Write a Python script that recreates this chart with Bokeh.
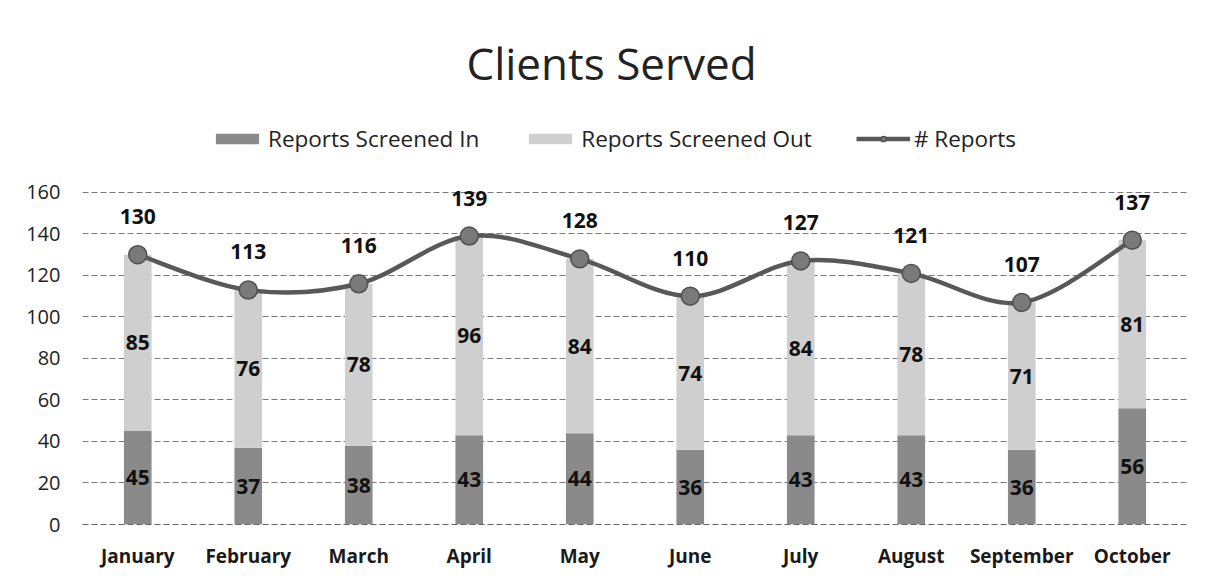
from bokeh.plotting import figure
from bokeh.models import ColumnDataSource, FactorRange, Legend, LegendItem, FixedTicker, Label
from bokeh.core.properties import value
from bokeh.embed import file_html
from bokeh.resources import INLINE

months = ["January", "February", "March", "April", "May", "June",
          "July", "August", "September", "October"]
screened_in = [45, 37, 38, 43, 44, 36, 43, 43, 36, 56]
screened_out = [85, 76, 78, 96, 84, 74, 84, 78, 71, 81]
total_reports = [130, 113, 116, 139, 128, 110, 127, 121, 107, 137]
y_ticks = [0, 20, 40, 60, 80, 100, 120, 140, 160]

FONT = "Open Sans"
DARK = "#8a8a8a"
LIGHT = "#cfcfcf"
LINE = "#585858"

src = ColumnDataSource(dict(
    month=months,
    inn=screened_in,
    out=screened_out,
    total=total_reports,
    in_mid=[v / 2 for v in screened_in],
    out_mid=[a + b / 2 for a, b in zip(screened_in, screened_out)],
    in_lbl=[str(v) for v in screened_in],
    out_lbl=[str(v) for v in screened_out],
    tot_lbl=[str(v) for v in total_reports],
))

# frame spans the full height so that title and legend sit inside it;
# the value axis only shows 0..160
p = figure(width=1200, height=578, x_range=FactorRange(*months, range_padding=0),
           y_range=(0, 252.5), output_backend="svg", toolbar_location=None,
           min_border_left=82, min_border_right=13,
           min_border_top=0, min_border_bottom=54)
p.outline_line_color = None
p.background_fill_color = "white"
p.border_fill_color = "white"

r_in, r_out = p.vbar_stack(["inn", "out"], x="month", width=0.25, source=src,
                           color=[DARK, LIGHT], line_color=None)

# smooth curve (cubic bezier through the data points)
n = len(total_reports)
xs = [i + 0.5 for i in range(n)]
x0, y0, x1, y1, cx0, cy0, cx1, cy1 = [], [], [], [], [], [], [], []
for i in range(n - 1):
    xm = xs[i - 1] if i > 0 else xs[i]
    ym = total_reports[i - 1] if i > 0 else total_reports[i]
    xp = xs[i + 2] if i + 2 < n else xs[i + 1]
    yp = total_reports[i + 2] if i + 2 < n else total_reports[i + 1]
    x0.append(xs[i]); y0.append(total_reports[i])
    x1.append(xs[i + 1]); y1.append(total_reports[i + 1])
    cx0.append(xs[i] + (xs[i + 1] - xm) / 6); cy0.append(total_reports[i] + (total_reports[i + 1] - ym) / 6)
    cx1.append(xs[i + 1] - (xp - xs[i]) / 6); cy1.append(total_reports[i + 1] - (yp - total_reports[i]) / 6)
r_line = p.bezier(x0=x0, y0=y0, x1=x1, y1=y1, cx0=cx0, cy0=cy0, cx1=cx1, cy1=cy1,
                  line_color=LINE, line_width=4.5)
r_pts = p.scatter(x="month", y="total", source=src, size=18, fill_color="#7a7a7a",
                  line_color="#505050", line_width=1.5)

# data labels
for ycol, tcol, off in (("in_mid", "in_lbl", 0), ("out_mid", "out_lbl", 0), ("total", "tot_lbl", -38)):
    p.text(x="month", y=ycol, text=tcol, source=src, text_align="center",
           text_baseline="middle", y_offset=off, text_font=value(FONT),
           text_font_style="bold", text_font_size="21px", text_color="#111111")

# axes
p.yaxis.ticker = FixedTicker(ticks=y_ticks)
p.yaxis.axis_line_color = None
p.yaxis.major_tick_line_color = None
p.yaxis.minor_tick_line_color = None
p.yaxis.major_tick_out = 0
p.yaxis.minor_tick_out = 0
p.yaxis.major_label_standoff = 22
p.yaxis.major_label_text_font = FONT
p.yaxis.major_label_text_font_size = "20px"
p.yaxis.major_label_text_color = "#222222"

p.xaxis.axis_line_color = "#666666"
p.xaxis.axis_line_dash = "6 3"
p.xaxis.major_tick_line_color = None
p.xaxis.minor_tick_line_color = None
p.xaxis.major_tick_out = 0
p.xaxis.minor_tick_out = 0
p.xaxis.major_label_standoff = 18
p.xaxis.major_label_text_font = FONT
p.xaxis.major_label_text_font_style = "bold"
p.xaxis.major_label_text_font_size = "19px"
p.xaxis.major_label_text_color = "#1a1a1a"

p.xgrid.grid_line_color = None
p.ygrid.grid_line_color = "#7a7a7a"
p.ygrid.grid_line_dash = "6 3"
p.ygrid.grid_line_width = 1

# title
p.add_layout(Label(x=529, y=462, x_units="screen", y_units="screen",
                   text="Clients Served", text_align="center", text_baseline="middle",
                   text_font=FONT, text_font_size="44px", text_color="#222222"))

# legend
leg = Legend(items=[LegendItem(label="Reports Screened In", renderers=[r_in]),
                    LegendItem(label="Reports Screened Out", renderers=[r_out]),
                    LegendItem(label="# Reports", renderers=[r_line, r_pts])],
             orientation="horizontal", location=(128, 370), padding=0, margin=0,
             spacing=44, glyph_width=54, glyph_height=13, label_height=30,
             label_standoff=4, label_text_font=FONT, label_text_font_size="22.5px",
             label_text_color="#222222", border_line_color=None,
             background_fill_alpha=0)
p.add_layout(leg)

open("out.html", "w").write(file_html(p, INLINE))
